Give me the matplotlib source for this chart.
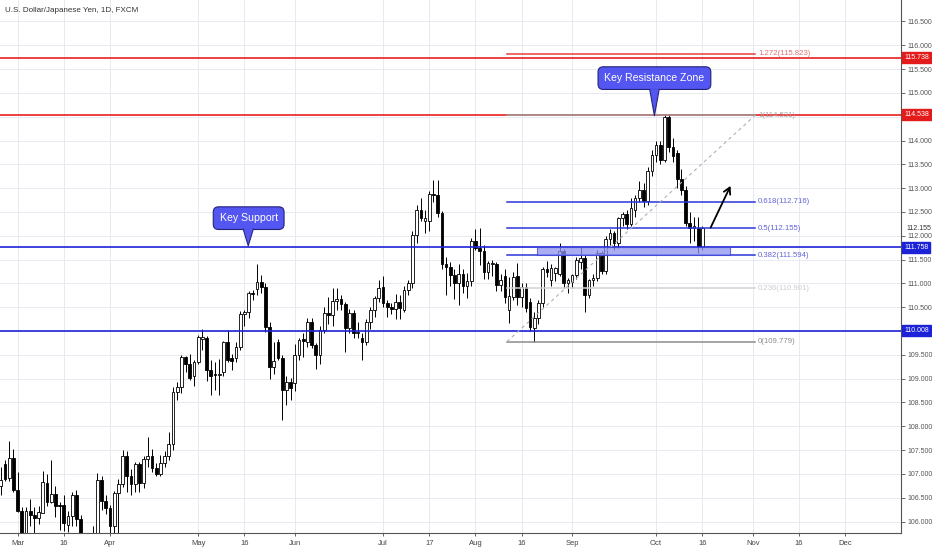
import matplotlib
matplotlib.use('Agg')
import matplotlib.pyplot as plt
import matplotlib.transforms as mtransforms
from matplotlib.patches import Rectangle, Polygon
import numpy as np
import pandas as pd

plt.rcParams['font.family'] = ['Liberation Sans', 'DejaVu Sans']

# daily bars, USD/JPY (FXCM), 2018-02-23 .. 2018-10-16
first_day = '2018-02-23'
last_day = '2018-10-16'

opens = [
    106.75, 107.20, 106.91, 107.33,
    106.67, 106.23, 105.72, 106.22, 106.14, 106.07, 106.19, 106.80, 106.42, 106.58, 106.35,
    106.35, 105.93, 106.11, 106.55, 106.05, 105.30, 104.72, 105.40, 105.40, 106.88, 106.44,
    106.28, 105.90, 106.60, 106.78, 107.38, 106.95, 106.78, 107.20, 106.80, 107.32, 107.38,
    107.13, 107.00, 107.24, 107.38, 107.63, 108.73, 108.83, 109.45, 109.30, 109.05,
    109.36, 109.84, 109.85, 109.18, 109.10, 109.07, 109.13, 109.76, 109.43, 109.43, 109.66,
    110.36, 110.41, 110.79, 110.88, 111.04, 110.92, 110.08, 109.25, 109.76, 109.43, 108.76, 108.92,
    108.90, 109.50, 109.83, 109.78, 110.20, 109.70, 109.50, 110.03, 110.37, 110.34, 110.64,
    110.68, 110.57, 110.06, 110.37, 109.95, 109.86, 109.76, 110.20, 110.45, 110.69,
    110.92, 110.58, 110.51, 110.47, 110.60, 110.45, 110.86, 111.00, 112.02, 112.54, 112.30,
    112.30, 112.88, 112.85, 112.47, 111.41, 111.34, 111.18, 111.00, 111.20, 110.95, 111.05,
    111.88, 111.74, 111.67, 111.25, 111.40, 111.41, 110.97, 111.16, 110.45, 110.72, 111.16,
    110.72, 110.92, 110.60, 110.06, 110.27, 110.58, 111.30, 111.07, 111.22, 111.20, 111.67, 111.00,
    111.04, 111.18, 111.45, 111.53, 110.76, 111.07, 111.11, 111.63, 111.27, 111.93,
    112.06, 111.84, 112.37, 112.46, 112.25, 112.54, 112.79, 112.96, 112.72, 113.37,
    113.70, 113.91, 113.59, 114.50, 113.87, 113.73, 113.20, 112.96, 112.27, 112.16, 112.16, 111.77,
]
highs = [
    107.15, 107.30, 107.70, 107.53,
    107.05, 106.30, 106.30, 106.48, 106.30, 106.32, 107.07, 107.00, 107.29, 106.75, 106.42,
    106.56, 106.22, 106.63, 106.67, 106.14, 105.30, 105.55, 105.90, 107.03, 106.95, 106.56,
    106.35, 106.65, 106.90, 107.50, 107.48, 107.10, 107.26, 107.25, 107.38, 107.78, 107.52,
    107.22, 107.40, 107.48, 107.89, 108.83, 108.93, 109.50, 109.48, 109.52, 109.40,
    109.91, 110.04, 109.90, 109.40, 109.35, 109.42, 109.80, 110.02, 109.52, 109.78, 110.42,
    110.44, 110.85, 110.86, 111.41, 111.18, 111.00, 110.20, 109.76, 109.83, 109.50, 109.05, 109.02,
    109.73, 109.85, 109.95, 110.28, 110.27, 109.75, 110.10, 110.50, 110.72, 110.90, 110.90,
    110.75, 110.60, 110.46, 110.45, 110.20, 109.95, 110.25, 110.50, 110.74, 111.07,
    111.15, 110.65, 110.58, 110.78, 110.75, 110.94, 111.08, 112.10, 112.65, 112.80, 112.55,
    112.95, 113.17, 113.18, 112.52, 111.55, 111.45, 111.30, 111.40, 111.30, 111.22, 111.95,
    112.15, 112.16, 111.80, 111.48, 111.50, 111.45, 111.20, 111.30, 111.14, 111.25, 111.43,
    111.00, 111.00, 110.70, 110.40, 110.65, 111.35, 111.48, 111.40, 111.35, 111.84, 111.72, 111.12,
    111.20, 111.55, 111.77, 111.60, 111.10, 111.20, 111.70, 111.68, 112.00, 112.15,
    112.10, 112.40, 112.50, 112.55, 112.80, 112.85, 113.15, 113.10, 113.45, 113.80,
    114.00, 114.00, 114.55, 114.55, 114.05, 113.80, 113.40, 113.05, 112.50, 112.40, 112.40, 112.20,
]
lows = [
    106.55, 106.85, 106.85, 106.62,
    106.20, 105.25, 105.35, 105.90, 105.76, 105.94, 106.17, 106.32, 106.38, 106.10, 105.83,
    105.80, 105.78, 105.90, 105.90, 105.25, 104.63, 104.70, 105.05, 105.20, 106.25, 106.15,
    105.66, 105.70, 105.67, 106.72, 106.62, 106.55, 106.62, 106.62, 106.70, 107.15, 107.05,
    106.95, 106.95, 107.15, 107.30, 107.50, 108.55, 108.70, 109.15, 108.98, 108.85,
    109.30, 109.60, 108.95, 108.65, 108.76, 108.66, 109.05, 109.34, 109.18, 109.35, 109.60,
    110.10, 110.28, 110.65, 110.75, 110.80, 109.98, 109.00, 109.10, 109.40, 108.13, 108.45, 108.55,
    108.75, 109.40, 109.45, 109.67, 109.65, 109.20, 109.30, 109.95, 110.15, 110.10, 110.45,
    110.45, 109.55, 109.95, 109.85, 109.85, 109.39, 109.70, 110.05, 110.30, 110.60,
    110.50, 110.30, 110.35, 110.25, 110.25, 110.40, 110.75, 110.90, 111.85, 112.30, 112.05,
    112.10, 112.70, 112.40, 111.30, 110.75, 110.95, 110.68, 110.55, 110.80, 110.70, 110.95,
    111.70, 111.38, 111.10, 111.10, 111.15, 110.85, 110.85, 110.58, 110.16, 110.65, 110.55,
    110.50, 110.40, 110.00, 109.78, 110.15, 110.50, 111.14, 110.95, 111.05, 111.15, 110.90, 110.80,
    110.90, 111.10, 111.30, 110.40, 110.70, 110.95, 111.05, 111.20, 111.20, 111.80,
    111.70, 111.75, 112.20, 112.15, 112.20, 112.40, 112.70, 112.60, 112.65, 113.25,
    113.55, 113.50, 113.55, 113.75, 113.55, 113.00, 112.85, 112.20, 111.85, 111.90, 111.63, 111.70,
]
closes = [
    106.88, 106.90, 107.33, 106.67,
    106.23, 105.72, 106.23, 106.14, 106.07, 106.20, 106.83, 106.42, 106.58, 106.32, 106.32,
    105.97, 106.11, 106.55, 106.05, 105.30, 104.72, 105.40, 105.40, 106.88, 106.44, 106.28,
    105.90, 106.60, 106.78, 107.38, 106.95, 106.78, 107.20, 106.80, 107.32, 107.38, 107.13,
    107.00, 107.24, 107.38, 107.63, 108.73, 108.83, 109.45, 109.30, 109.02, 109.36,
    109.87, 109.88, 109.18, 109.05, 109.07, 109.10, 109.76, 109.39, 109.38, 109.67, 110.36,
    110.41, 110.79, 110.78, 111.04, 110.92, 110.08, 109.25, 109.38, 109.43, 108.76, 108.92, 108.80,
    109.50, 109.81, 109.80, 110.20, 109.70, 109.50, 110.03, 110.37, 110.33, 110.64, 110.68,
    110.57, 110.06, 110.37, 109.95, 109.98, 109.76, 110.20, 110.45, 110.69, 110.90,
    110.58, 110.51, 110.47, 110.60, 110.48, 110.86, 111.00, 112.02, 112.54, 112.37, 112.37,
    112.88, 112.85, 112.47, 111.41, 111.34, 111.18, 111.00, 111.20, 110.95, 111.05, 111.88,
    111.74, 111.67, 111.25, 111.42, 111.43, 110.97, 111.07, 110.72, 110.74, 111.14, 110.72,
    110.92, 110.48, 110.08, 110.27, 110.58, 111.30, 111.23, 111.32, 111.32, 111.67, 111.00, 111.07,
    111.18, 111.49, 111.53, 110.76, 111.07, 111.11, 111.63, 111.27, 111.93, 112.06,
    111.84, 112.37, 112.46, 112.25, 112.58, 112.79, 112.96, 112.72, 113.37, 113.70,
    113.91, 113.59, 114.50, 113.87, 113.67, 113.20, 112.96, 112.27, 112.16, 112.21, 111.77, 112.16,
]

red_levels = [115.738, 114.538]
blue_levels = [111.758, 110.008]

fib_ratios = ['1.272', '1', '0.618', '0.5', '0.382', '0.236', '0']
fib_prices = [115.823, 114.531, 112.716, 112.155, 111.594, 110.901, 109.779]
fib_line_colors = ['#e8403c', '#9e9e9e', '#2b36d9', '#2b36d9', '#2b36d9', '#d2d2d2', '#8c8c8c']
fib_text_colors = ['#e07070', '#a8a8a8', '#6464d8', '#6464d8', '#6464d8', '#cccccc', '#8c8c8c']

tick_dates = ['2018-03-01', '2018-03-16', '2018-04-02', '2018-05-01', '2018-05-16', '2018-06-01',
              '2018-07-02', '2018-07-17', '2018-08-01', '2018-08-16', '2018-09-03', '2018-10-01',
              '2018-10-16', '2018-11-01', '2018-11-16', '2018-12-03']
tick_labels = ['Mar', '16', 'Apr', 'May', '16', 'Jun', 'Jul', '17', 'Aug', '16', 'Sep', 'Oct',
               '16', 'Nov', '16', 'Dec']
price_ticks = np.arange(106.0, 116.51, 0.5)
hidden_ticks = [110.0, 114.5]   # covered by the level tags

# bar positions: trading-day count from 1 Mar
cal = pd.bdate_range('2018-02-01', '2018-12-31')
origin = cal.get_loc(pd.Timestamp('2018-03-01'))
def pos(d):
    return cal.get_loc(pd.Timestamp(d)) - origin

days = pd.bdate_range(first_day, last_day)
xs = [pos(d) for d in days]

fig = plt.figure(figsize=(9.32, 5.5), dpi=100)
ax = fig.add_axes([0, 17 / 550, 901 / 932, 533 / 550])
ax.set_xlim(-4.2, 210.3)
ax.set_ylim(105.76, 116.95)

ax.grid(True, color='#e7ebf1', lw=0.7, zorder=0)
ax.set_axisbelow(True)

# candles
for x, o, h, l, c in zip(xs, opens, highs, lows, closes):
    ax.plot([x, x], [l, h], color='black', lw=0.7, zorder=3, solid_capstyle='butt')
    fc = 'white' if c >= o else 'black'
    ax.add_patch(Rectangle((x - 0.33, min(o, c)), 0.66, max(abs(c - o), 0.012),
                           facecolor=fc, edgecolor='black', lw=0.6, zorder=4))

# full width levels
for p in red_levels:
    ax.axhline(p, color='#e82020', lw=1.2, zorder=5)
for p in blue_levels:
    ax.axhline(p, color='#1c22d8', lw=1.2, zorder=5)

# fib retracement
fib_x0, fib_x1 = 116.5, 175.6
for r, p, lc, tc in zip(fib_ratios, fib_prices, fib_line_colors, fib_text_colors):
    ax.plot([fib_x0, fib_x1], [p, p], color=lc, lw=1.1, zorder=5)
    ax.text(fib_x1 + 0.7, p, f'{r}({p:.3f})', color=tc, fontsize=5.6, va='center', ha='left', zorder=6)
ax.plot([fib_x0, fib_x1], [fib_prices[-1], fib_prices[1]], color='#b0b0b0', lw=0.8,
        ls=(0, (3, 3)), zorder=5)

# zone box
ax.add_patch(Rectangle((123.7, 111.594), 169.6 - 123.7, 111.758 - 111.594,
                       facecolor='#8c92ee', edgecolor='#3a40d8', lw=0.8, alpha=0.75, zorder=6))

# arrow
ax.annotate('', xy=(170.0, 113.10), xytext=(164.7, 112.12),
            arrowprops=dict(arrowstyle='->,head_length=0.45,head_width=0.25', color='black', lw=1.3),
            zorder=7)

# callouts
def callout(text, cx, cy, tip, base_y, half_w):
    box_fc = '#5356f0'
    ax.text(cx, cy, text, fontsize=7.6, color='white', ha='center', va='center', zorder=10,
            bbox=dict(boxstyle='round,pad=0.6,rounding_size=0.5', fc=box_fc, ec='#23237a', lw=0.8))
    tx, ty = tip
    tri = Polygon([[tx - half_w, base_y], [tx + half_w, base_y], [tx, ty]], closed=True,
                  facecolor=box_fc, edgecolor='none', zorder=11)
    ax.add_patch(tri)
    ax.plot([tx - half_w, tx, tx + half_w], [base_y - 0.02, ty, base_y - 0.02], color='#23237a', lw=0.8, zorder=11)

callout('Key Support', 55.0, 112.37, (54.9, 111.79), 112.16, 1.2)
callout('Key Resistance Zone', 151.6, 115.31, (151.6, 114.52), 115.08, 1.1)

# axes styling
for s in ['left', 'top']:
    ax.spines[s].set_visible(False)
ax.spines['right'].set_color('#555555')
ax.spines['bottom'].set_color('#555555')
ax.spines['right'].set_linewidth(0.8)
ax.spines['bottom'].set_linewidth(0.8)

ax.yaxis.tick_right()
ax.set_yticks(price_ticks)
ax.set_yticklabels(['' if round(v, 1) in hidden_ticks else f'{v:.3f}' for v in price_ticks])
ax.tick_params(axis='y', labelsize=5, colors='#555555', length=3, width=0.6, pad=2)
ax.set_xticks([pos(d) for d in tick_dates])
ax.set_xticklabels(tick_labels)
ax.tick_params(axis='x', labelsize=5.5, colors='#444444', length=2, width=0.6, pad=3)

# price labels on the axis
trans = mtransforms.blended_transform_factory(ax.transAxes, ax.transData)
for p, col in [(115.738, '#e41b1b'), (114.538, '#e41b1b'), (111.758, '#1c22d8'), (110.008, '#1c22d8')]:
    ax.text(1.0 + 3 / 901, p, f'{p:.3f}', transform=trans, fontsize=5, color='white',
            ha='left', va='center', clip_on=False, zorder=12,
            bbox=dict(boxstyle='square,pad=0.3', fc=col, ec=col))
ax.text(1.0 + 5 / 901, 112.155, '112.155', transform=trans, fontsize=5, color='#333333',
        ha='left', va='center', clip_on=False, zorder=12,
        bbox=dict(boxstyle='square,pad=0.1', fc='white', ec='none'))

fig.text(5 / 932, 1 - 10 / 550, 'U.S. Dollar/Japanese Yen, 1D, FXCM', fontsize=5.8,
         color='#333333', ha='left', va='center')

fig.savefig('out.png', dpi=100)
